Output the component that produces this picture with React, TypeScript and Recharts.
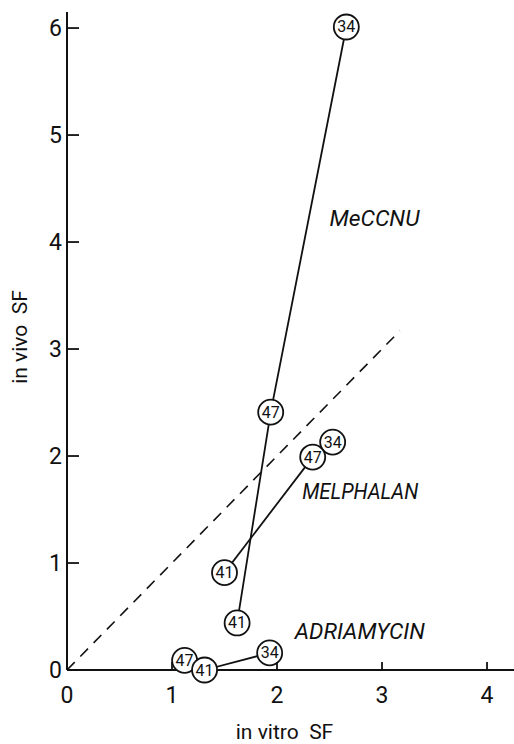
import {
  ReferenceDot,
  ReferenceLine,
  Scatter,
  ScatterChart,
  XAxis,
  YAxis,
  Label,
} from "recharts";

const xTicks = [0, 1, 2, 3, 4];
const yTicks = [0, 1, 2, 3, 4, 5, 6];

// circled numbers = tumour line
const meccnuIds = [41, 47, 34];
const meccnuVitro = [1.62, 1.94, 2.66];
const meccnuVivo = [0.44, 2.41, 6.01];

const melphalanIds = [41, 47];
const melphalanVitro = [1.5, 2.34];
const melphalanVivo = [0.91, 1.99];
const melphalanLoneIds = [34];
const melphalanLoneVitro = [2.53];
const melphalanLoneVivo = [2.13];

const adriaIds = [41, 34];
const adriaVitro = [1.31, 1.93];
const adriaVivo = [0.0, 0.16];
const adriaLoneIds = [47];
const adriaLoneVitro = [1.12];
const adriaLoneVivo = [0.09];

const identity = [0, 3.17];

const drugNames = ["MeCCNU", "MELPHALAN", "ADRIAMYCIN"];
const drugNameX = [2.5, 2.24, 2.17];
const drugNameY = [4.22, 1.67, 0.36];

const FONT = "Roboto, 'DejaVu Sans', sans-serif";
const INK = "#111";

function pts(ids: number[], xs: number[], ys: number[]) {
  return ids.map((n, i) => ({ x: xs[i], y: ys[i], n }));
}

function Circled(props: any) {
  const { cx, cy, payload } = props;
  return (
    <g>
      <circle cx={cx} cy={cy} r={12.5} fill="#fff" stroke={INK} strokeWidth={1.8} />
      <text
        x={cx}
        y={cy}
        textAnchor="middle"
        dominantBaseline="central"
        fontFamily={FONT}
        fontSize={16}
        fill={INK}
      >
        {payload.n}
      </text>
    </g>
  );
}

function YTick(props: any) {
  const { x, y, payload } = props;
  return (
    <g>
      <line x1={x + 5} x2={x + 17} y1={y} y2={y} stroke={INK} strokeWidth={1.8} />
      <text x={x} y={y} textAnchor="end" dominantBaseline="central" fontFamily={FONT} fontSize={23} fill={INK}>
        {payload.value}
      </text>
    </g>
  );
}

function XTick(props: any) {
  const { x, y, payload } = props;
  return (
    <g>
      <line x1={x} x2={x} y1={y - 17} y2={y - 25} stroke={INK} strokeWidth={1.8} />
      <text x={x} y={y} dy="0.71em" textAnchor="middle" fontFamily={FONT} fontSize={23} fill={INK}>
        {payload.value}
      </text>
    </g>
  );
}

const widths = [90, 116, 130];

export default function App() {
  const line = { stroke: INK, strokeWidth: 1.8 };
  return (
    <div style={{ position: "absolute", left: 0, top: 0, width: 514, height: 744, background: "#fff" }}>
      <ScatterChart width={514} height={744} margin={{ top: 12, right: 0, bottom: 0, left: 27 }}>
        <XAxis
          type="number"
          dataKey="x"
          domain={[0, 4.257]}
          ticks={xTicks}
          height={74}
          tickSize={0}
          tickMargin={17}
          tick={<XTick />}
          axisLine={{ stroke: INK, strokeWidth: 2 }}
        >
          <Label
            content={(p: any) => (
              <text
                x={p.viewBox.x + p.viewBox.width / 2 - 6}
                y={739}
                textAnchor="middle"
                fontFamily={FONT}
                fontSize={21}
                fill={INK}
                style={{ whiteSpace: "pre" }}
              >
                {"in vitro  SF"}
              </text>
            )}
          />
        </XAxis>
        <YAxis
          type="number"
          dataKey="y"
          domain={[0, 6.15]}
          ticks={yTicks}
          width={40}
          tickSize={0}
          tickMargin={5}
          tick={<YTick />}
          axisLine={{ stroke: INK, strokeWidth: 2 }}
        >
          <Label
            content={() => (
              <text
                x={27}
                y={337}
                transform="rotate(-90 27 337)"
                textAnchor="middle"
                fontFamily={FONT}
                fontSize={21}
                fill={INK}
                style={{ whiteSpace: "pre" }}
              >
                {"in vivo  SF"}
              </text>
            )}
          />
        </YAxis>
        <ReferenceLine
          segment={[
            { x: identity[0], y: identity[0] },
            { x: identity[1], y: identity[1] },
          ]}
          stroke={INK}
          strokeWidth={1.6}
          strokeDasharray="11 8"
        />
        {drugNames.map((name, i) => (
          <ReferenceDot
            key={name}
            x={drugNameX[i]}
            y={drugNameY[i]}
            r={0}
            shape={(p: any) => (
              <text
                x={p.cx}
                y={p.cy}
                dominantBaseline="central"
                fontFamily={FONT}
                fontStyle="italic"
                fontSize={22}
                textLength={widths[i]}
                lengthAdjust="spacingAndGlyphs"
                fill={INK}
              >
                {name}
              </text>
            )}
          />
        ))}
        <Scatter data={pts(meccnuIds, meccnuVitro, meccnuVivo)} line={line} shape={<Circled />} isAnimationActive={false} />
        <Scatter data={pts(melphalanLoneIds, melphalanLoneVitro, melphalanLoneVivo)} shape={<Circled />} isAnimationActive={false} />
        <Scatter data={pts(melphalanIds, melphalanVitro, melphalanVivo)} line={line} shape={<Circled />} isAnimationActive={false} />
        <Scatter data={pts(adriaLoneIds, adriaLoneVitro, adriaLoneVivo)} shape={<Circled />} isAnimationActive={false} />
        <Scatter data={pts(adriaIds, adriaVitro, adriaVivo)} line={line} shape={<Circled />} isAnimationActive={false} />
      </ScatterChart>
    </div>
  );
}
